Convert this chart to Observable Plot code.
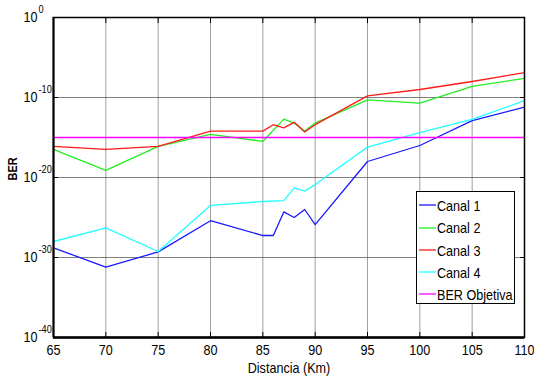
<!DOCTYPE html>
<html>
<head>
<meta charset="utf-8">
<script src="https://cdn.jsdelivr.net/npm/d3@7"></script>
<script src="https://cdn.jsdelivr.net/npm/@observablehq/plot@0.6"></script>
<style>
  body { margin: 0; background: #fff; }
  #wrap { position: relative; width: 534px; height: 381px; font-family: 'Liberation Sans', Arial, sans-serif; }
  #legend { position: absolute; left: 416px; top: 191px; width: 97px; height: 111px; border: 1px solid #000; background: #fff; }
  .row { position: absolute; left: 2px; height: 20px; display: flex; align-items: center; font-size: 15px; color: #000; white-space: nowrap; }
  .row svg { display: block; margin-right: 1px; }
  .row span { display: inline-block; transform: scaleX(0.84); transform-origin: left center; }
</style>
</head>
<body>
<div id="wrap"></div>
<script>
const distances = [65, 70, 75, 80, 85, 86, 87, 88, 89, 90, 95, 100, 105, 110];
const canal1 = [1.6e-29, 6.3e-32, 5.0e-30, 4.0e-26, 5.6e-28, 5.6e-28, 5.0e-25, 1.0e-25, 1.0e-24, 1.3e-26, 1.0e-18, 1.0e-16, 1.3e-13, 6.3e-12];
const canal2 = [3.2e-17, 7.9e-20, 7.9e-17, 2.5e-15, 3.2e-16, null, 2.0e-13, 6.3e-14, 6.3e-15, 6.3e-14, 5.0e-11, 2.0e-11, 2.5e-9, 2.5e-8];
const canal3 = [7.9e-17, 3.2e-17, 7.9e-17, 6.3e-15, 6.3e-15, 4.0e-14, 1.6e-14, 7.9e-14, 5.0e-15, 4.0e-14, 1.6e-10, 1.0e-9, 1.0e-8, 1.3e-7];
const canal4 = [1.0e-28, 5.0e-27, 5.6e-30, 3.2e-24, 1.0e-23, null, 1.3e-23, 5.0e-22, 2.0e-22, 1.3e-21, 6.3e-17, 4.0e-15, 1.8e-13, 4.0e-11];
const berObjetiva = 1e-15;
const seriesNames = ["Canal 1", "Canal 2", "Canal 3", "Canal 4", "BER Objetiva"];
const seriesColors = ["#1a1aff", "#22ee22", "#ff1a1a", "#22ffff", "#ff00ff"];
const xTicks = [65, 70, 75, 80, 85, 90, 95, 100, 105, 110];
const yTicks = [1e-40, 1e-30, 1e-20, 1e-10, 1];
const yTickExp = ["-40", "-30", "-20", "-10", "0"];

const rows = [];
[canal1, canal2, canal3, canal4].forEach((arr, i) => {
  arr.forEach((v, j) => { if (v != null) rows.push({series: seriesNames[i], d: distances[j], ber: v}); });
});
[distances[0], distances[distances.length - 1]].forEach(d => rows.push({series: seriesNames[4], d, ber: berObjetiva}));

const tickRows = yTicks.map((v, i) => ({v, e: yTickExp[i]}));

const chart = Plot.plot({
  width: 534, height: 381,
  marginLeft: 53, marginRight: 10, marginTop: 17, marginBottom: 44,
  style: {fontFamily: "'Liberation Sans', Arial, sans-serif", fontSize: "14px", background: "#fff"},
  x: {domain: [65, 110], ticks: xTicks},
  y: {type: "log", domain: [1e-40, 1], ticks: yTicks},
  color: {domain: seriesNames, range: seriesColors},
  marks: [
    Plot.gridX(xTicks, {stroke: "#777", strokeOpacity: 0.7, strokeWidth: 1}),
    Plot.gridY(yTicks, {stroke: "#555", strokeOpacity: 0.75, strokeWidth: 1}),
    Plot.line(rows, {x: "d", y: "ber", z: "series", stroke: "series", strokeWidth: 1.3}),
    Plot.axisX(xTicks, {anchor: "bottom", tickSize: -5, fill: "none", stroke: "#000", label: null}),
    Plot.axisX(xTicks, {anchor: "top", tickSize: -5, fill: "none", stroke: "#000", label: null}),
    Plot.axisY(yTicks, {anchor: "left", tickSize: -5, fill: "none", stroke: "#000", label: null}),
    Plot.axisY(yTicks, {anchor: "right", tickSize: -5, fill: "none", stroke: "#000", label: null}),
    Plot.axisX(xTicks, {anchor: "bottom", tickSize: 0, stroke: "none", tickPadding: 7, fontSize: 15, fill: "#000", label: null}),
    Plot.text(tickRows, {y: "v", frameAnchor: "left", dx: -16, text: () => "10", textAnchor: "end", fontSize: 15, fill: "#000"}),
    Plot.text(tickRows, {y: "v", frameAnchor: "left", dx: -15, dy: -8, text: "e", textAnchor: "start", fontSize: 11, fill: "#000"}),
    Plot.text(["Distancia (Km)"], {frameAnchor: "bottom", dy: 35, text: d => d, fontSize: 15, fill: "#000"}),
    Plot.text(["BER"], {frameAnchor: "left", dx: -41, dy: 3, rotate: -90, text: d => d, fontSize: 13, fontWeight: "bold", fill: "#000"}),
    Plot.frame({stroke: "#000", strokeWidth: 1.5}),
    Plot.ruleY([1e-40], {stroke: "#000", strokeWidth: 2.5}),
    Plot.ruleX([65], {stroke: "#000", strokeWidth: 2})
  ]
});

const wrap = document.getElementById("wrap");
wrap.appendChild(chart);

// Narrow the glyphs (the reference uses a condensed face)
chart.querySelectorAll("text").forEach(t => {
  if (t.querySelector("tspan")) return;
  const w = t.getComputedTextLength();
  if (w > 0) {
    t.setAttribute("textLength", (w * 0.84).toFixed(2));
    t.setAttribute("lengthAdjust", "spacingAndGlyphs");
  }
});

const legend = document.createElement("div");
legend.id = "legend";
const rowTops = [3, 25.7, 48, 70, 92.3];
seriesNames.forEach((name, i) => {
  const r = document.createElement("div");
  r.className = "row";
  r.style.top = rowTops[i] + "px";
  const sw = d3.create("svg").attr("width", 17).attr("height", 4);
  sw.append("line").attr("x1", 0).attr("x2", 17).attr("y1", 2).attr("y2", 2)
    .attr("stroke", seriesColors[i]).attr("stroke-width", 1.3);
  const t = document.createElement("span");
  t.textContent = name;
  r.appendChild(sw.node()); r.appendChild(t);
  legend.appendChild(r);
});
wrap.appendChild(legend);
</script>
</body>
</html>
